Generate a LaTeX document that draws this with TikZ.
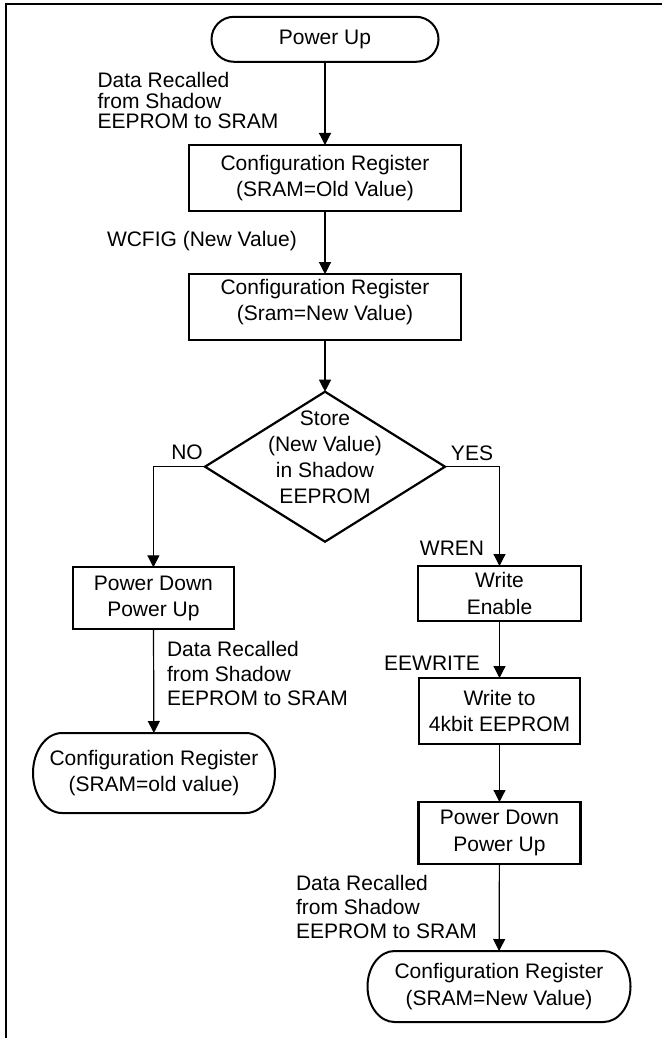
\documentclass[tikz,border=0pt]{standalone}
\usepackage{fontspec}
\setmainfont{Liberation Sans}
\usetikzlibrary{arrows.meta,shapes.geometric}
\newcommand\stadium[3]{\draw[termline] ([xshift=-#2]#1.north east) arc[start angle=90,end angle=-90,x radius=#2,y radius=#3] -- ([xshift=#2]#1.south west) arc[start angle=270,end angle=90,x radius=#2,y radius=#3] -- cycle;}
\begin{document}
\begin{tikzpicture}[x=1pt,y=-1pt,
  font=\fontsize{21}{26.5}\selectfont,
  box/.style 2 args={draw,line width=2.2pt,rectangle,inner sep=0pt,outer sep=0pt,minimum width=#1,minimum height=#2,align=center},
  term/.style 2 args={rectangle,inner sep=0pt,outer sep=0pt,minimum width=#1,minimum height=#2,align=center},
  termline/.style={line width=2pt},
  txt/.style={inner sep=0pt,outer sep=0pt,align=center},
  lbl/.style={inner sep=0pt,outer sep=0pt,align=left,anchor=west},
  conn/.style={line width=1.2pt,-{Triangle[length=12pt,width=12pt]}},
  flow/.style={line width=1.2pt}]
\useasboundingbox (0,0) rectangle (661,1038);
% frame
\coordinate (fa) at (6,1045);
\coordinate (fb) at (6,4);
\coordinate (fc) at (668,4);
\draw[line width=1.6pt] (fa) -- (fb) -- (fc);
% nodes
\node[term={227pt}{45pt}] (pu) at (325,39.3) {Power Up};
\stadium{pu}{22.5pt}{22.5pt}
\node[box={272pt}{66pt}] (c1) at (325,178) {Configuration Register\\(SRAM=Old Value)};
\node[box={272pt}{66pt}] (c2) at (325,307.2) {};
\node[txt] (c2t) at (325,302.2) {Configuration Register\\(Sram=New Value)};
\node[diamond,draw,line width=2.2pt,inner sep=0pt,outer sep=0pt,minimum width=240pt,minimum height=150pt] (dia) at (325,466.7) {};
\node[txt,font=\fontsize{21}{26}\selectfont] (diat) at (325,457) {Store\\(New Value)\\in Shadow\\EEPROM};
\node[box={161pt}{62pt}] (pd1) at (153.4,598.3) {Power Down\\Power Up};
\node[term={242pt}{80pt}] (lt) at (154,773) {Configuration Register\\(SRAM=old value)};
\stadium{lt}{29pt}{40pt}
\node[box={163pt}{55pt}] (we) at (499.5,593.5) {Write\\Enable};
\node[box={161pt}{66pt}] (wr) at (499.5,711) {Write to\\4kbit EEPROM};
\node[box={162pt}{62pt}] (pd2) at (499.5,833) {Power Down\\Power Up};
\node[term={263pt}{71pt}] (bt) at (499,986.5) {Configuration Register\\(SRAM=New Value)};
\stadium{bt}{27pt}{35.5pt}
% labels
\node[lbl,font=\fontsize{21}{20.5}\selectfont] (l1) at (97.5,100.7) {Data Recalled\\from Shadow\\EEPROM to SRAM};
\node[lbl] (l2) at (107,241.3) {WCFIG (New Value)};
\node[txt] (lno) at (187,452) {NO};
\node[txt] (lyes) at (472,453) {YES};
\node[txt] (lwren) at (452,548) {WREN};
\node[txt] (lee) at (432,663.3) {EEWRITE};
\node[lbl,font=\fontsize{21}{24.5}\selectfont] (l3) at (167,673.5) {Data Recalled\\from Shadow\\EEPROM to SRAM};
\node[lbl,font=\fontsize{21}{24.2}\selectfont] (l4) at (296,906.8) {Data Recalled\\from Shadow\\EEPROM to SRAM};
% connectors
\draw[conn] (pu) -- (c1);
\draw[conn] (c1) -- (c2);
\draw[conn] (c2) -- (dia);
\draw[conn] (dia.west) -| (pd1.north);
\draw[conn] (dia.east) -| (we.north);
\draw[conn] (pd1) -- (lt);
\draw[conn] (we) -- (wr);
\draw[conn] (wr) -- (pd2);
\draw[conn] (pd2) -- (bt);
\end{tikzpicture}
\end{document}
